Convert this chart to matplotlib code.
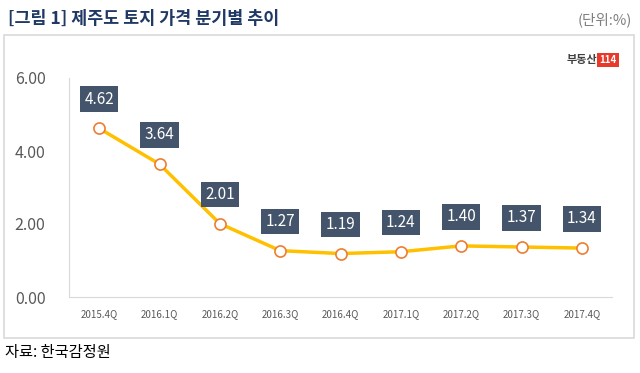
import matplotlib.pyplot as plt
from matplotlib.patches import Rectangle

plt.rcParams['font.family'] = ['Noto Sans CJK KR', 'DejaVu Sans']

quarters = ['2015.4Q', '2016.1Q', '2016.2Q', '2016.3Q', '2016.4Q',
            '2017.1Q', '2017.2Q', '2017.3Q', '2017.4Q']
values = [4.62, 3.64, 2.01, 1.27, 1.19, 1.24, 1.40, 1.37, 1.34]
yticks = [0, 2, 4, 6]

fig = plt.figure(figsize=(6.4, 3.73), dpi=100)

# outer frame
fig.patches.append(Rectangle((4 / 640, 1 - 338 / 373), 630 / 640, 303 / 373,
                             transform=fig.transFigure, fill=False,
                             edgecolor='#d9d9d9', linewidth=1.2))

ax = fig.add_axes([69 / 640, 1 - 297 / 373, 543 / 640, 219 / 373])
x = list(range(len(quarters)))
ax.plot(x, values, color='#FFC000', linewidth=2.5, zorder=2)
ax.plot(x, values, linestyle='none', marker='o', markersize=8,
        markerfacecolor='white', markeredgecolor='#ED7D31',
        markeredgewidth=1.2, zorder=3)

for xi, v in zip(x, values):
    ax.annotate(f'{v:.2f}', (xi, v), xytext=(0, 21), textcoords='offset points',
                ha='center', va='center', color='white', fontsize=11,
                fontweight='medium',
                bbox=dict(boxstyle='square,pad=0.28', facecolor='#44546a',
                          edgecolor='none'))

ax.set_xlim(-0.5, len(quarters) - 0.5)
ax.set_ylim(0, 6)
ax.set_yticks(yticks)
ax.set_yticklabels([f'{t:.2f}' for t in yticks], fontsize=11.5, color='#595959')
ax.set_xticks(x)
ax.set_xticklabels(quarters, fontsize=7, color='#595959')
ax.tick_params(axis='both', length=0)
ax.tick_params(axis='y', pad=17)
ax.tick_params(axis='x', pad=9)
for s in ['top', 'right']:
    ax.spines[s].set_visible(False)
for s in ['left', 'bottom']:
    ax.spines[s].set_color('#d9d9d9')

fig.text(8 / 640, 1 - 19 / 373, '[그림 1] 제주도 토지 가격 분기별 추이',
         fontsize=12.5, fontweight='bold', color='#1f3864', va='center')
fig.text(632 / 640, 1 - 20 / 373, '(단위:%)', fontsize=10.5, color='#7f7f7f',
         ha='right', va='center')
fig.text(5 / 640, 1 - 353 / 373, '자료: 한국감정원', fontsize=11, color='black',
         va='center')

# logo
fig.text(597 / 640, 1 - 60 / 373, '부동산', fontsize=8, fontweight='bold',
         color='#404040', ha='right', va='center')
fig.text(608 / 640, 1 - 60 / 373, '114', fontsize=7, fontweight='bold',
         color='white', ha='center', va='center',
         bbox=dict(boxstyle='square,pad=0.2', facecolor='#e8392b',
                   edgecolor='none'))

fig.savefig('out.png', dpi=100)
